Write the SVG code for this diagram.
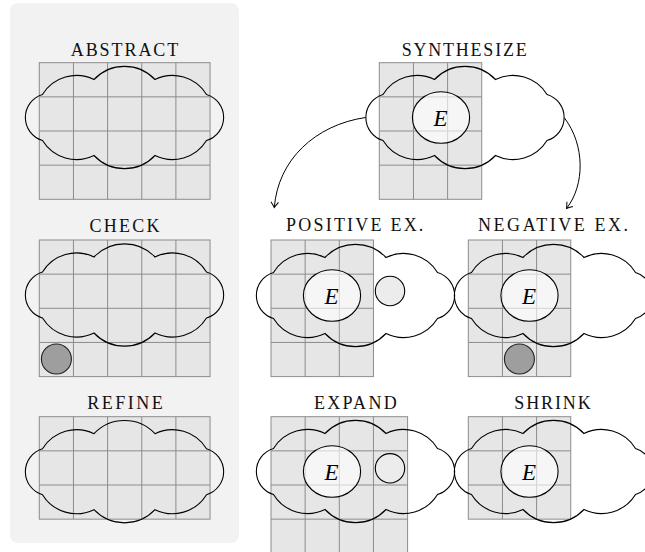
<svg xmlns="http://www.w3.org/2000/svg" xmlns:xlink="http://www.w3.org/1999/xlink" width="645" height="552" viewBox="0 0 645 552">
<style>
.grid rect{fill:#e6e6e6;stroke:#8c8c8c;stroke-width:1}
.grid path{fill:none;stroke:#8c8c8c;stroke-width:1}
.cloud{fill:none;stroke:#000;stroke-width:1.1}
.ex{fill:#fff;fill-opacity:0.62;stroke:#000;stroke-width:1.1}
.pos{fill:#ececec;stroke:#000;stroke-width:1.1}
.neg{fill:#9e9e9e;stroke:#222;stroke-width:1.1}
.title{font-family:"Liberation Serif","Times New Roman",serif;font-size:18px;fill:#111;text-anchor:middle}
.e{font-family:"Liberation Serif","Times New Roman",serif;font-style:italic;font-size:23px;fill:#000;text-anchor:middle}
.conn path{fill:none;stroke:#000;stroke-width:1}
</style>
<defs>
<path id="cloud" class="cloud" d="M-82,-23 A40,40 0 0 1 -30.5,-38 A42,42 0 0 1 30.5,-38 A40,40 0 0 1 82,-23 A24,24 0 0 1 82,23 A40,40 0 0 1 30.5,38 A42,42 0 0 1 -30.5,38 A40,40 0 0 1 -82,23 A24,24 0 0 1 -82,-23 Z"/>
<g id="g5x4" class="grid"><rect x="0" y="0" width="170.75" height="136.6"/><path d="M34.15,0V136.6M68.3,0V136.6M102.45,0V136.6M136.6,0V136.6M0,34.15H170.75M0,68.3H170.75M0,102.45H170.75"/></g>
<g id="g5x3" class="grid"><rect x="0" y="0" width="170.75" height="102.45"/><path d="M34.15,0V102.45M68.3,0V102.45M102.45,0V102.45M136.6,0V102.45M0,34.15H170.75M0,68.3H170.75"/></g>
<g id="g3x4" class="grid"><rect x="0" y="0" width="102.45" height="136.6"/><path d="M34.15,0V136.6M68.3,0V136.6M0,34.15H102.45M0,68.3H102.45M0,102.45H102.45"/></g>
<g id="g4x4" class="grid"><rect x="0" y="0" width="136.6" height="136.6"/><path d="M34.15,0V136.6M68.3,0V136.6M102.45,0V136.6M0,34.15H136.6M0,68.3H136.6M0,102.45H136.6"/></g>
<g id="g3x3" class="grid"><rect x="0" y="0" width="102.45" height="102.45"/><path d="M34.15,0V102.45M68.3,0V102.45M0,34.15H102.45M0,68.3H102.45"/></g>
<marker id="arr" viewBox="-7 -5 9 10" refX="0" refY="0" markerWidth="9" markerHeight="10" markerUnits="userSpaceOnUse" orient="auto">
<path d="M-5.5,-3.8 Q-1.8,-1 0,0 Q-1.8,1 -5.5,3.8" fill="none" stroke="#000" stroke-width="1"/>
</marker>
</defs>
<rect width="645" height="552" fill="#fff"/>
<rect id="sidebar" x="10" y="3" width="229" height="540" rx="8" fill="#f2f2f2"/>

<g id="abstract">
<use href="#g5x4" x="39.3" y="62.7"/>
<use href="#cloud" transform="translate(124.5,117.5)"/>
<text class="title" x="124.5" y="56" textLength="107.6" lengthAdjust="spacing">ABSTRACT</text>
</g>

<g id="check">
<use href="#g5x4" x="39.3" y="240"/>
<use href="#cloud" transform="translate(124.5,295)"/>
<circle class="neg" cx="56.4" cy="359" r="15"/>
<text class="title" x="124.4" y="231.8" textLength="70" lengthAdjust="spacing">CHECK</text>
</g>

<g id="refine">
<use href="#g5x3" x="39.3" y="416.7"/>
<use href="#cloud" transform="translate(124.5,471.7)"/>
<text class="title" x="125" y="409.2" textLength="75.4" lengthAdjust="spacing">REFINE</text>
</g>

<g id="synthesize">
<use href="#g3x4" x="379.3" y="62.7"/>
<use href="#cloud" transform="translate(465,117.5)"/>
<ellipse class="ex" cx="441" cy="117.5" rx="28.6" ry="25.8"/>
<text class="e" x="440.5" y="126">E</text>
<text class="title" x="464.2" y="56.3" textLength="125" lengthAdjust="spacing">SYNTHESIZE</text>
</g>

<g id="positive-ex">
<use href="#g3x4" x="271" y="240"/>
<use href="#cloud" transform="translate(355.5,295.5)"/>
<ellipse class="ex" cx="332" cy="295.5" rx="28.6" ry="25.8"/>
<text class="e" x="331.5" y="304">E</text>
<circle class="pos" cx="390" cy="291" r="14.7"/>
<text class="title" x="354.7" y="231" textLength="137.3" lengthAdjust="spacing">POSITIVE EX.</text>
</g>

<g id="negative-ex">
<use href="#g3x4" x="468.3" y="240"/>
<use href="#cloud" transform="translate(553.5,295.5)"/>
<ellipse class="ex" cx="529.5" cy="295.5" rx="28.6" ry="25.8"/>
<text class="e" x="529" y="304">E</text>
<circle class="neg" cx="519.4" cy="359" r="15"/>
<text class="title" x="553" y="231" textLength="150" lengthAdjust="spacing">NEGATIVE EX.</text>
</g>

<g id="expand">
<use href="#g4x4" x="271" y="416.7"/>
<use href="#cloud" transform="translate(355.5,471.5)"/>
<ellipse class="ex" cx="332" cy="471.5" rx="28.6" ry="25.8"/>
<text class="e" x="331.5" y="480">E</text>
<circle class="pos" cx="390" cy="468.3" r="14.7"/>
<text class="title" x="355.3" y="409" textLength="82.7" lengthAdjust="spacing">EXPAND</text>
</g>

<g id="shrink">
<use href="#g3x3" x="468.3" y="416.7"/>
<use href="#cloud" transform="translate(553.5,471.5)"/>
<ellipse class="ex" cx="529.5" cy="471.5" rx="28.6" ry="25.8"/>
<text class="e" x="529" y="480">E</text>
<text class="title" x="552.5" y="409" textLength="76.4" lengthAdjust="spacing">SHRINK</text>
</g>

<g id="connectors" class="conn">
<path d="M365.5,117.5 C315,125 278,160 274.3,207.5" marker-end="url(#arr)"/>
<path d="M564.5,118 C585,145 585,185 566.5,208.5" marker-end="url(#arr)"/>
</g>
</svg>
